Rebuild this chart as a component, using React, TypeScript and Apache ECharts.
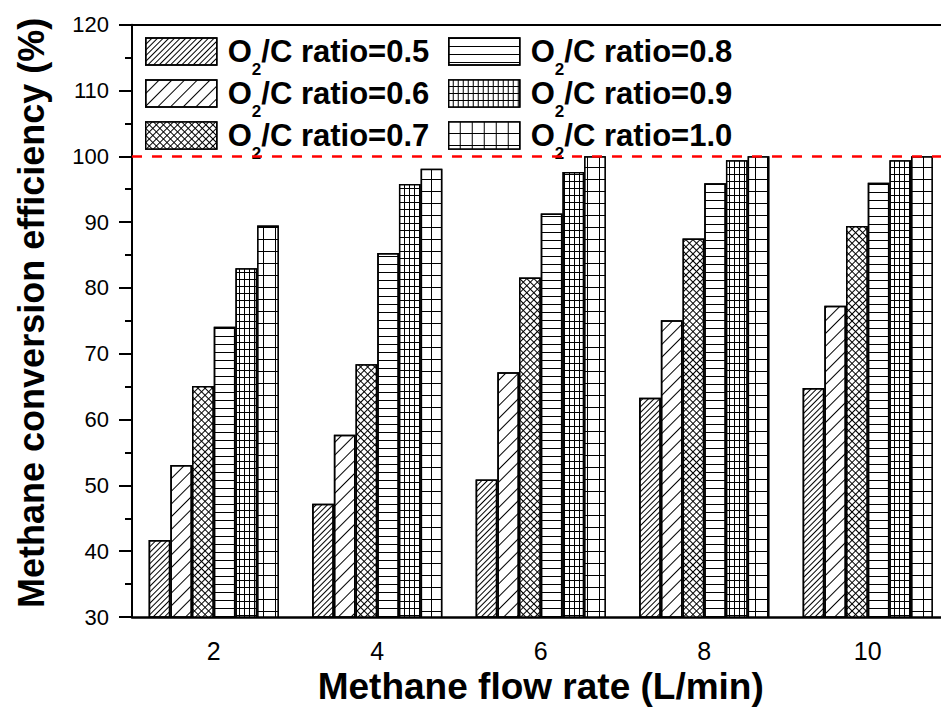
import React, { useEffect, useRef } from "react";
import * as echarts from "echarts";

// ---- Data ----
const flowRates = ["2", "4", "6", "8", "10"];
const seriesNames = [
  "O2/C ratio=0.5",
  "O2/C ratio=0.6",
  "O2/C ratio=0.7",
  "O2/C ratio=0.8",
  "O2/C ratio=0.9",
  "O2/C ratio=1.0",
];
const ratio05 = [41.7, 47.2, 50.9, 63.3, 64.8];
const ratio06 = [53.1, 57.7, 67.2, 75.1, 77.3];
const ratio07 = [65.1, 68.4, 81.6, 87.5, 89.4];
const ratio08 = [74.1, 85.3, 91.3, 95.9, 96.0];
const ratio09 = [83.0, 95.8, 97.6, 99.4, 99.4];
const ratio10 = [89.5, 98.1, 100.0, 100.0, 100.0];
const yTicks = { min: 30, max: 120, interval: 10 };
const referenceLine = 100;

const FONT = "'Liberation Sans', Arial, Helvetica, sans-serif";

// hatch patterns (styles only)
const patterns: any[] = [
  // 0.5 dense diagonal
  { color: "#fff", decal: { color: "#000", dashArrayX: [1, 0], dashArrayY: [1, 3], rotation: -Math.PI / 4, symbolKeepAspect: false } },
  // 0.6 sparse diagonal
  { color: "#fff", decal: { color: "#000", dashArrayX: [1, 0], dashArrayY: [1, 8], rotation: -Math.PI / 4, symbolKeepAspect: false } },
  // 0.7 cross hatch
  { color: "#000", decal: { color: "#fff", dashArrayX: [4, 1], dashArrayY: [4, 1], rotation: Math.PI / 4, symbolKeepAspect: false } },
  // 0.8 horizontal lines
  { color: "#fff", decal: { color: "#000", dashArrayX: [1, 0], dashArrayY: [1, 7], symbolKeepAspect: false } },
  // 0.9 fine grid
  { color: "#000", decal: { color: "#fff", dashArrayX: [4, 1], dashArrayY: [6, 1], symbolKeepAspect: false } },
  // 1.0 coarse grid
  { color: "#000", decal: { color: "#fff", dashArrayX: [11, 1], dashArrayY: [11, 1], symbolKeepAspect: false } },
];

const values = [ratio05, ratio06, ratio07, ratio08, ratio09, ratio10];

function legendCfg(names: string[], left: number) {
  return {
    data: names,
    orient: "vertical",
    left,
    top: 36,
    padding: 0,
    itemWidth: 71,
    itemHeight: 27,
    itemGap: 0,
    icon: "rect",
    selectedMode: false,
    itemStyle: { borderColor: "#000", borderWidth: 1.5 },
    formatter: (name: string) => `{m|O}{s|2}{m|${name.slice(2)}}`,
    textStyle: {
      padding: [0, 0, 0, 6],
      rich: {
        m: { fontFamily: FONT, fontSize: 31, fontWeight: "bold", color: "#000", lineHeight: 53, verticalAlign: "middle" },
        s: { fontFamily: FONT, fontSize: 17, fontWeight: "bold", color: "#000", lineHeight: 17, verticalAlign: "bottom" },
      },
    },
  };
}

export default function App() {
  const ref = useRef<HTMLDivElement>(null);
  useEffect(() => {
    if (!ref.current) return;
    const chart = echarts.init(ref.current, null, { renderer: "svg" });
    const axisBlack = { color: "#000", width: 2 };
    const option: any = {
      animation: false,
      backgroundColor: "#fff",
      grid: { left: 132, right: -8.5, top: 24.7, bottom: 106, containLabel: false, outerBoundsMode: "none" },
      legend: [legendCfg(seriesNames.slice(0, 3), 145), legendCfg(seriesNames.slice(3), 448)],
      xAxis: [
        {
          type: "category",
          data: flowRates,
          position: "bottom",
          axisLine: { lineStyle: { color: "#000", width: 2.5 } },
          axisTick: { alignWithLabel: true, length: 12, lineStyle: axisBlack },
          axisLabel: { fontFamily: FONT, fontSize: 25, color: "#000", margin: 21 },
          name: "Methane flow rate (L/min)",
          nameLocation: "middle",
          nameGap: 47,
          nameTextStyle: { fontFamily: FONT, fontSize: 37, fontWeight: "bold", color: "#000" },
        },
        {
          type: "category",
          data: flowRates,
          position: "bottom",
          axisLine: { show: false },
          axisTick: { alignWithLabel: false, length: 6, lineStyle: axisBlack },
          axisLabel: { show: false },
        },
        {
          type: "category",
          data: flowRates,
          position: "top",
          axisLine: { lineStyle: axisBlack },
          axisTick: { alignWithLabel: true, inside: true, length: 5, lineStyle: axisBlack },
          axisLabel: { show: false },
        },
        {
          type: "category",
          data: flowRates,
          position: "top",
          axisLine: { show: false },
          axisTick: { alignWithLabel: false, inside: true, length: 5, lineStyle: axisBlack },
          axisLabel: { show: false },
        },
      ],
      yAxis: {
        type: "value",
        min: yTicks.min,
        max: yTicks.max,
        interval: yTicks.interval,
        axisLine: { show: true, lineStyle: axisBlack },
        axisTick: { show: true, length: 13, lineStyle: axisBlack },
        minorTick: { show: true, splitNumber: 2, length: 7, lineStyle: axisBlack },
        splitLine: { show: false },
        axisLabel: { fontFamily: FONT, fontSize: 22, color: "#000", margin: 23 },
        name: "Methane conversion efficiency (%)",
        nameLocation: "middle",
        nameGap: 83,
        nameTextStyle: { fontFamily: FONT, fontSize: 36, fontWeight: "bold", color: "#000", padding: [0, 0, 0, 16] },
      },
      series: seriesNames.map((name, i) => ({
        name,
        type: "bar",
        xAxisIndex: 0,
        data: values[i],
        barWidth: 21.7,
        barGap: "0%",
        itemStyle: { ...patterns[i], borderColor: "#000", borderWidth: 1.5 },
        emphasis: { disabled: true },
        ...(i === 5
          ? {
              markLine: {
                silent: true,
                symbol: ["none", "none"],
                label: { show: false },
                lineStyle: { color: "#ff0000", type: [10, 10], width: 2.5 },
                data: [{ yAxis: referenceLine }],
              },
            }
          : {}),
      })),
    };
    chart.setOption(option);
    return () => chart.dispose();
  }, []);
  return <div ref={ref} style={{ position: "fixed", left: 0, top: 0, width: 941, height: 723 }} />;
}
